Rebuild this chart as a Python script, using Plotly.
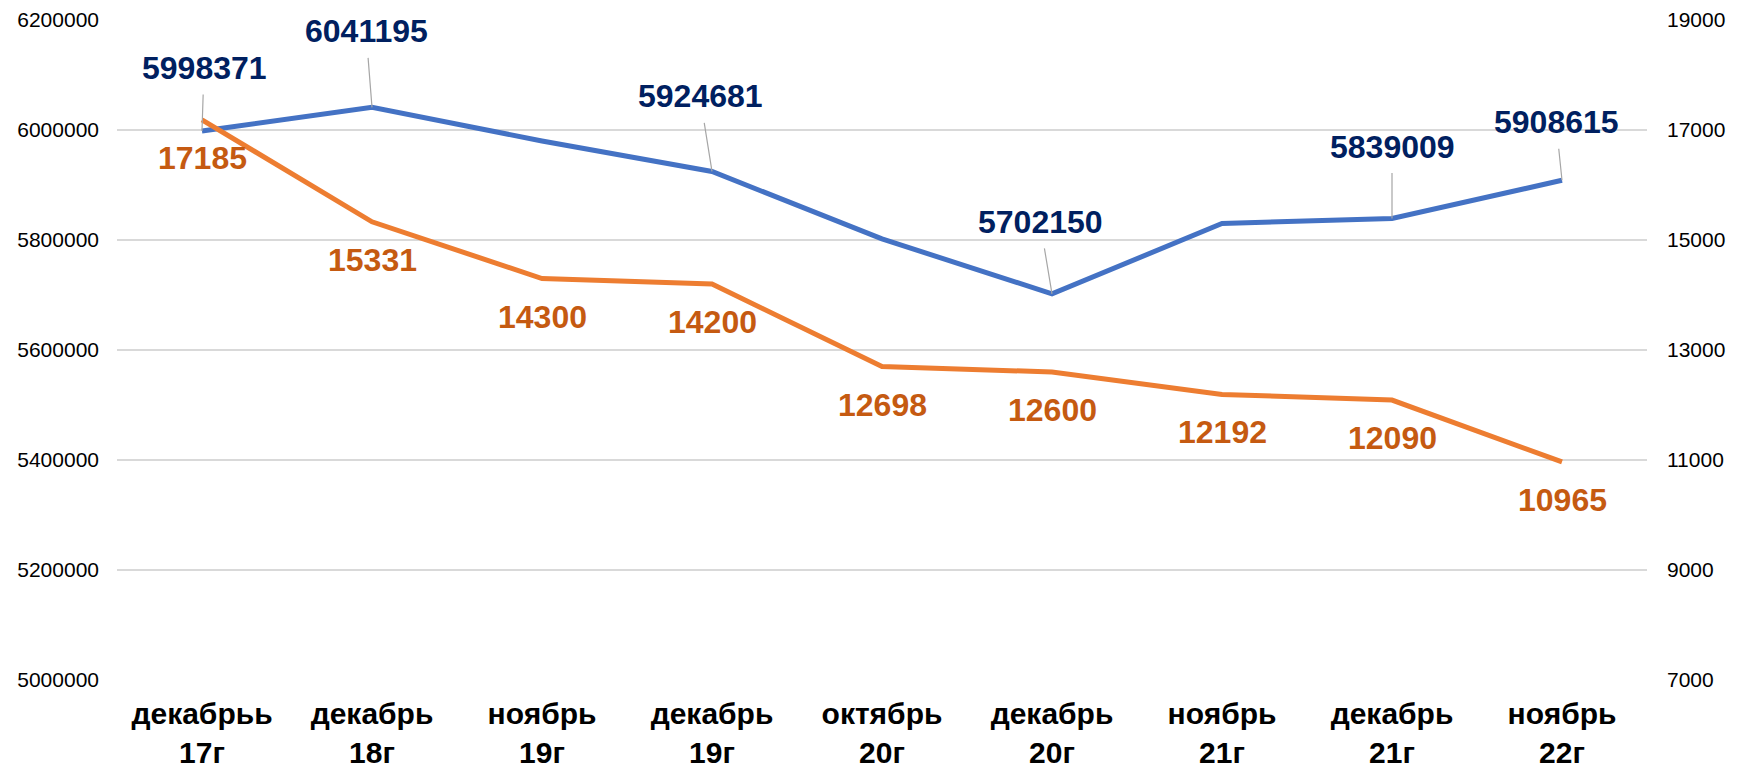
import plotly.graph_objects as go

categories = ["декабрьь<br>17г", "декабрь<br>18г", "ноябрь<br>19г", "декабрь<br>19г",
              "октябрь<br>20г", "декабрь<br>20г", "ноябрь<br>21г", "декабрь<br>21г",
              "ноябрь<br>22г"]
population = [5998371, 6041195, 5980000, 5924681, 5802000, 5702150, 5830000, 5839009, 5908615]
population_labels = ["5998371", "6041195", None, "5924681", None, "5702150", None, "5839009", "5908615"]
orange_values = [17185, 15331, 14300, 14200, 12698, 12600, 12192, 12090, 10965]

left_ticks = [5000000, 5200000, 5400000, 5600000, 5800000, 6000000, 6200000]
right_ticks = [7000, 9000, 11000, 13000, 15000, 17000, 19000]

# label offsets (pixels) for blue labels (leader lines)
blue_offsets = [(2, -63), (-6, -76), None, (-12, -75), None, (-12, -72), None, (0, -72), (-6, -58)]

FONT = "Liberation Sans, Arial, sans-serif"
BLUE = "#4472C4"
ORANGE = "#ED7D31"
BLUE_TXT = "#002060"
ORANGE_TXT = "#C55A11"

fig = go.Figure()
fig.add_trace(go.Scatter(x=categories, y=population, mode="lines",
                         line=dict(color=BLUE, width=5), yaxis="y", showlegend=False,
                         hoverinfo="skip"))
fig.add_trace(go.Scatter(x=categories, y=orange_values, mode="lines",
                         line=dict(color=ORANGE, width=5), yaxis="y2", showlegend=False,
                         hoverinfo="skip"))

annotations = []
for c, v, lab, off in zip(categories, population, population_labels, blue_offsets):
    if lab is None:
        continue
    annotations.append(dict(x=c, y=v, xref="x", yref="y", text=f"<b>{lab}</b>",
                            showarrow=True, arrowhead=0, arrowwidth=1.2, arrowcolor="#A6A6A6",
                            ax=off[0], ay=off[1], borderpad=8, standoff=0,
                            font=dict(family=FONT, size=32, color=BLUE_TXT)))
for c, v in zip(categories, orange_values):
    annotations.append(dict(x=c, y=v, xref="x", yref="y2", text=f"<b>{v}</b>",
                            showarrow=False, xanchor="center", yanchor="middle", yshift=-38,
                            font=dict(family=FONT, size=32, color=ORANGE_TXT)))

fig.update_layout(
    width=1732, height=763,
    margin=dict(l=109, r=93, t=12, b=91, autoexpand=False),
    paper_bgcolor="white", plot_bgcolor="white",
    font=dict(family=FONT, color="#000000"),
    xaxis=dict(type="category", range=[-0.5, 8.5], showgrid=False, showline=False,
               zeroline=False, ticks="", ticklabelstandoff=13, automargin=False,
               tickfont=dict(family=FONT, size=30, color="#000000", weight="bold")),
    yaxis=dict(range=[5000000, 6200000], tickvals=left_ticks,
               ticktext=[str(t) for t in left_ticks], automargin=False,
               showgrid=True, gridcolor="#D9D9D9", gridwidth=1.5, zeroline=False,
               showline=False, ticks="", ticklabelstandoff=17,
               tickfont=dict(family=FONT, size=21, color="#000000")),
    yaxis2=dict(range=[7000, 19000], tickvals=right_ticks,
                ticktext=[str(t) for t in right_ticks], automargin=False,
                overlaying="y", side="right", showgrid=False, zeroline=False,
                showline=False, ticks="", ticklabelstandoff=19,
                tickfont=dict(family=FONT, size=21, color="#000000")),
    annotations=annotations,
)

fig.write_html("out.html")
